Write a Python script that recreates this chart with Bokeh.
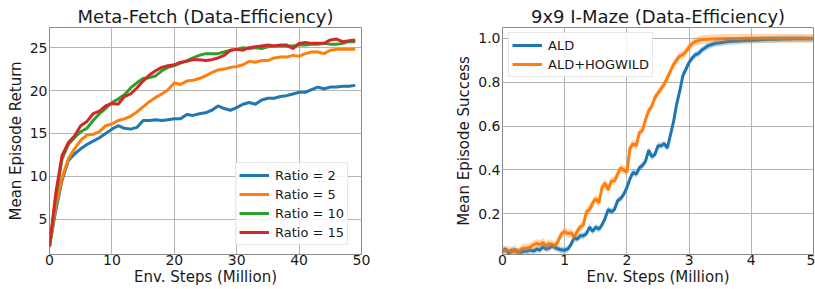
from bokeh.plotting import figure
from bokeh.layouts import row
from bokeh.models import Range1d, FixedTicker, Legend, LegendItem, NumeralTickFormatter, Band, ColumnDataSource
from bokeh.embed import file_html
from bokeh.resources import INLINE

# ---------------- data: Meta-Fetch ----------------
steps_fetch = list(range(50))
ratio_2 = [1.8, 6.0, 9.5, 11.8, 12.6, 13.2, 13.7, 14.1, 14.5, 15.0,
           15.5, 15.9, 15.6, 15.5, 15.7, 16.5, 16.5, 16.6, 16.5, 16.6,
           16.7, 16.7, 17.2, 17.1, 17.3, 17.4, 17.7, 18.2, 17.9, 17.7,
           18.0, 18.4, 18.6, 18.4, 18.9, 19.1, 19.1, 19.3, 19.4, 19.6,
           19.8, 19.8, 20.1, 20.4, 20.2, 20.4, 20.4, 20.5, 20.5, 20.6]
ratio_5 = [1.8, 6.5, 9.8, 12.0, 13.2, 14.2, 14.8, 14.9, 15.2, 15.9,
           16.1, 16.5, 16.7, 17.0, 17.5, 18.1, 18.7, 19.2, 19.6, 20.1,
           20.9, 20.7, 21.1, 21.2, 21.4, 21.7, 22.1, 22.4, 22.5, 22.7,
           22.8, 23.0, 23.4, 23.3, 23.5, 23.5, 23.8, 23.9, 23.9, 24.1,
           24.0, 24.3, 24.5, 24.5, 24.3, 24.7, 24.8, 24.8, 24.8, 24.8]
ratio_10 = [1.8, 7.5, 12.0, 13.7, 14.5, 15.2, 15.6, 16.5, 17.3, 17.9,
            18.6, 19.0, 19.5, 20.3, 20.9, 21.4, 21.5, 21.7, 22.3, 22.7,
            22.9, 23.2, 23.5, 23.8, 24.1, 24.3, 24.3, 24.3, 24.5, 24.7,
            24.8, 25.0, 24.9, 25.0, 24.9, 25.1, 25.2, 25.2, 25.2, 25.2,
            25.3, 25.3, 25.4, 25.4, 25.5, 25.4, 25.4, 25.5, 25.7, 25.7]
ratio_15 = [1.8, 8.0, 12.4, 13.9, 14.7, 15.9, 16.4, 17.3, 17.6, 18.2,
            18.5, 18.4, 19.3, 19.6, 20.3, 21.1, 21.8, 22.3, 22.7, 22.9,
            23.0, 23.3, 23.4, 23.6, 23.6, 23.5, 23.6, 23.8, 24.1, 24.7,
            24.8, 24.7, 25.0, 25.1, 25.2, 25.3, 25.2, 25.3, 25.3, 24.9,
            25.5, 25.6, 25.5, 25.5, 25.5, 25.9, 26.0, 25.7, 25.8, 25.9]
fetch_labels = ["Ratio = 2", "Ratio = 5", "Ratio = 10", "Ratio = 15"]
fetch_xticks = [0, 10, 20, 30, 40, 50]
fetch_yticks = [5, 10, 15, 20, 25]

# ---------------- data: 9x9 I-Maze ----------------
steps_maze = [0.0, 0.05, 0.1, 0.15, 0.2, 0.25, 0.3, 0.35, 0.4, 0.45,
              0.5, 0.55, 0.6, 0.65, 0.7, 0.75, 0.8, 0.85, 0.9, 0.95,
              1.0, 1.05, 1.1, 1.15, 1.2, 1.25, 1.3, 1.35, 1.4, 1.45,
              1.5, 1.55, 1.6, 1.65, 1.7, 1.75, 1.8, 1.85, 1.9, 1.95,
              2.0, 2.05, 2.1, 2.15, 2.2, 2.25, 2.3, 2.35, 2.4, 2.45,
              2.5, 2.55, 2.6, 2.65, 2.7, 2.75, 2.8, 2.85, 2.9, 2.95,
              3.0, 3.05, 3.1, 3.15, 3.2, 3.25, 3.3, 3.35, 3.4, 3.45,
              3.5, 3.6, 3.7, 3.8, 3.9, 4.0, 4.1, 4.2, 4.3, 4.4,
              4.5, 4.6, 4.7, 4.8, 4.9, 5.0]
ald = [0.030, 0.040, 0.020, 0.035, 0.030, 0.030, 0.025, 0.030, 0.030, 0.035,
       0.030, 0.040, 0.035, 0.050, 0.040, 0.045, 0.055, 0.045, 0.040, 0.035,
       0.035, 0.040, 0.060, 0.090, 0.085, 0.100, 0.100, 0.110, 0.140, 0.120,
       0.140, 0.130, 0.150, 0.180, 0.220, 0.210, 0.220, 0.260, 0.270, 0.290,
       0.320, 0.360, 0.390, 0.380, 0.410, 0.420, 0.440, 0.490, 0.460, 0.470,
       0.510, 0.510, 0.520, 0.500, 0.560, 0.620, 0.700, 0.760, 0.830, 0.860,
       0.890, 0.910, 0.925, 0.930, 0.945, 0.955, 0.965, 0.970, 0.975, 0.978,
       0.980, 0.984, 0.986, 0.988, 0.990, 0.991, 0.992, 0.994, 0.995, 0.996,
       0.997, 0.997, 0.998, 0.998, 0.998, 0.998]
ald_hogwild = [0.038, 0.030, 0.035, 0.025, 0.040, 0.020, 0.040, 0.045, 0.045, 0.050,
               0.060, 0.065, 0.060, 0.070, 0.055, 0.065, 0.060, 0.055, 0.080, 0.110,
               0.120, 0.110, 0.115, 0.095, 0.120, 0.140, 0.150, 0.210, 0.220, 0.250,
               0.270, 0.250, 0.320, 0.340, 0.310, 0.350, 0.350, 0.380, 0.410, 0.400,
               0.390, 0.500, 0.520, 0.510, 0.570, 0.580, 0.630, 0.670, 0.690, 0.730,
               0.750, 0.770, 0.790, 0.820, 0.850, 0.880, 0.900, 0.920, 0.925, 0.940,
               0.960, 0.975, 0.985, 0.990, 0.993, 0.995, 0.996, 0.997, 0.997, 0.998,
               0.998, 0.999, 0.999, 0.999, 1.000, 1.000, 1.000, 1.000, 1.000, 1.000,
               1.000, 1.000, 1.000, 1.000, 0.999, 0.999]
ald_band = 0.015
hogwild_band = 0.02
maze_labels = ["ALD", "ALD+HOGWILD"]
maze_xticks = [0, 1, 2, 3, 4, 5]
maze_yticks = [0.2, 0.4, 0.6, 0.8, 1.0]

COLORS = ["#1f77b4", "#ff7f0e", "#2ca02c", "#d62728"]
FONT = "DejaVu Sans"


def style(p):
    p.title.text_font = FONT
    p.title.text_font_size = "18px"
    p.title.text_font_style = "normal"
    p.title.text_color = "#1a1a1a"
    p.title.align = "center"
    p.title.standoff = 1
    p.outline_line_color = "#8a8a8a"
    p.outline_line_width = 1
    p.background_fill_color = "white"
    p.border_fill_color = "white"
    for ax in (p.xaxis[0], p.yaxis[0]):
        ax.axis_line_color = None
        ax.major_tick_line_color = None
        ax.minor_tick_line_color = None
        ax.major_tick_out = 0
        ax.major_tick_in = 0
        ax.major_label_text_font = FONT
        ax.major_label_text_font_size = "14px"
        ax.major_label_text_color = "#1a1a1a"
        ax.axis_label_text_font = FONT
        ax.axis_label_text_font_size = "15px"
        ax.axis_label_text_font_style = "normal"
        ax.axis_label_text_color = "#1a1a1a"
        ax.major_label_standoff = 0
        ax.axis_label_standoff = 0
    p.yaxis.major_label_standoff = 2
    p.yaxis.axis_label_standoff = 2
    p.grid.grid_line_color = "#b5b5b5"
    p.grid.grid_line_width = 1


def make_legend(p, items, loc):
    lg = Legend(items=items, location=loc, margin=0, padding=3, spacing=1,
                label_text_font=FONT, label_text_font_size="13px",
                label_text_color="#1a1a1a",
                glyph_width=30, glyph_height=18, label_height=18,
                label_standoff=6, border_line_color="#d0d0d0",
                background_fill_alpha=0.85)
    p.add_layout(lg, "center")


# ---------------- left figure ----------------
p1 = figure(width=440, height=288, output_backend="svg", toolbar_location=None,
            title="Meta-Fetch (Data-Efficiency)",
            x_range=Range1d(0, 50), y_range=Range1d(0.88, 27.35),
            min_border_left=49, min_border_right=79, min_border_top=27,
            min_border_bottom=0)
style(p1)
p1.xaxis.axis_label = "Env. Steps (Million)"
p1.yaxis.axis_label = "Mean Episode Return"
p1.xaxis.ticker = FixedTicker(ticks=fetch_xticks)
p1.yaxis.ticker = FixedTicker(ticks=fetch_yticks)
items = []
for ys, lab, c in zip([ratio_2, ratio_5, ratio_10, ratio_15], fetch_labels, COLORS):
    r = p1.line(steps_fetch, ys, line_color=c, line_width=3)
    items.append(LegendItem(label=lab, renderers=[r]))
make_legend(p1, items, (186, 9))

# ---------------- right figure ----------------
p2 = figure(width=375, height=288, output_backend="svg", toolbar_location=None,
            title="9x9 I-Maze (Data-Efficiency)",
            x_range=Range1d(0, 5), y_range=Range1d(0.015, 1.049),
            min_border_left=62, min_border_right=2, min_border_top=27,
            min_border_bottom=0)
style(p2)
p2.xaxis.axis_label = "Env. Steps (Million)"
p2.yaxis.axis_label = "Mean Episode Success"
p2.xaxis.ticker = FixedTicker(ticks=maze_xticks)
p2.yaxis.ticker = FixedTicker(ticks=maze_yticks)
p2.yaxis.formatter = NumeralTickFormatter(format="0.0")
items = []
for ys, half, lab, c in zip([ald, ald_hogwild], [ald_band, hogwild_band], maze_labels, COLORS[:2]):
    src = ColumnDataSource(dict(x=steps_maze, lo=[v - half for v in ys], hi=[v + half for v in ys]))
    p2.add_layout(Band(base="x", lower="lo", upper="hi", source=src,
                       fill_color=c, fill_alpha=0.3, line_color=None))
    r = p2.line(steps_maze, ys, line_color=c, line_width=3)
    items.append(LegendItem(label=lab, renderers=[r]))
make_legend(p2, items, (6, 177))

layout = row(p1, p2, spacing=0)
open("out.html", "w").write(file_html(layout, INLINE))
